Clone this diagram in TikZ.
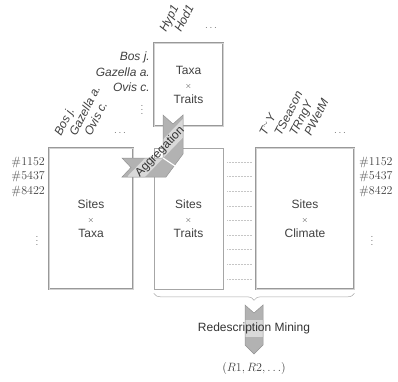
\documentclass[tikz,border=0pt]{standalone}
\usepackage{fontspec}
\setsansfont{Liberation Sans}
\usetikzlibrary{decorations.pathreplacing}
\tikzset{
  matbox/.style={draw=gray!80, line width=0.7pt, double=gray!35, double distance=0.7pt,
    align=center, font=\sffamily\fontsize{12}{14.5}\selectfont, text=black!75},
  thinbox/.style={draw=gray!70, line width=0.6pt,
    align=center, font=\sffamily\fontsize{12}{14.5}\selectfont, text=black!75},
  collabel/.style={font=\sffamily\itshape\fontsize{12}{14}\selectfont, text=black!75,
    rotate=63, anchor=base west, inner sep=0pt},
  taxlabel/.style={font=\sffamily\itshape\fontsize{12}{14}\selectfont, text=black!75,
    anchor=east, inner sep=0pt},
  rowlabel/.style={font=\fontsize{12}{14}\selectfont, text=black!75, inner sep=0pt},
  moredots/.style={text=black!60, inner sep=0pt},
  bigarrow/.style={fill=gray!60, draw=gray!85, line width=0.5pt},
  arrowtext/.style={font=\sffamily\fontsize{12}{14}\selectfont, text=black!80, inner sep=0pt},
}
\newcommand{\tms}{{\footnotesize$\times$}}
\begin{document}
\begin{tikzpicture}[x=1pt, y=-1pt]
  \useasboundingbox (0,0) rectangle (398,381);
  % the four matrices
  \node[matbox, minimum width=84pt, minimum height=141pt] (sitestaxa) at (91,218.5)
    {Sites\\\tms\\Taxa};
  \node[thinbox, minimum width=69pt, minimum height=141pt] (sitestraits) at (188.5,218.5)
    {Sites\\\tms\\Traits};
  \node[matbox, minimum width=98pt, minimum height=141pt] (sitesclim) at (305,218.5)
    {Sites\\\tms\\Climate};
  \node[matbox, minimum width=69pt, minimum height=83pt] (taxatraits) at (188.5,84.5)
    {Taxa\\\tms\\Traits};
  % column labels
  \foreach \x/\t in {61/Bos j., 76/Gazella a., 91/Ovis c.}
    \node[collabel] (st-\x) at (\x,137) {\t};
  \foreach \x/\t in {266/T\textsuperscript{$\sim$}Y, 281/TSeason, 296/TRngY, 311/PWetM}
    \node[collabel] (sc-\x) at (\x,137) {\t};
  \foreach \x/\t in {166/Hyp1, 181/Hod1}
    \node[collabel] (tt-\x) at (\x,33) {\t};
  \node[moredots] (st-dots) at (120,133) {$\dots$};
  \node[moredots] (sc-dots) at (340,133) {$\dots$};
  \node[moredots] (tt-dots) at (211,28) {$\dots$};
  % row labels
  \foreach \y/\t in {57/Bos j., 72/Gazella a., 87/Ovis c.}
    \node[taxlabel] (tr-\y) at (150,\y) {\t};
  \node[moredots] (tr-dots) at (142,107) {$\vdots$};
  \foreach \y/\t in {162/1152, 176.5/5437, 191/8422} {
    \node[rowlabel, anchor=east] (sl-\t) at (45,\y) {\#\t};
    \node[rowlabel, anchor=west] (sr-\t) at (359,\y) {\#\t};
  }
  \node[moredots] (sl-dots) at (37,238) {$\vdots$};
  \node[moredots] (sr-dots) at (372,238) {$\vdots$};
  % dotted rows between traits and climate
  \foreach \y in {162,176.6,...,280}
    \draw[gray!45, densely dotted, line width=0.5pt] (227,\y) -- (252,\y);
  % aggregation arrow
  \begin{scope}
    \clip (163,115) -- (173,124) -- (183,115) -- (183,154) -- (166,177)
      -- (122,177) -- (131,167.5) -- (122,158) -- (163,158) -- cycle;
    \fill[gray!60] (100,100) rectangle (200,200);
    \fill[gray!30, rotate around={46:(160,152)}] (120,145.5) rectangle (200,158.5);
  \end{scope}
  \draw[draw=gray!85, line width=0.5pt] (163,115) -- (173,124) -- (183,115) -- (183,154)
    -- (166,177) -- (122,177) -- (131,167.5) -- (122,158) -- (163,158) -- cycle;
  \draw[white, line width=1.2pt] (163,158) -- (175,166);
  \node[arrowtext, rotate=46] (aggr) at (160,152) {Aggregation};
  % brace and redescription arrow
  \draw[gray!70, line width=0.5pt, decorate, decoration={brace, mirror, amplitude=7pt}]
    ([yshift=-4pt]sitestraits.south west) -- ([yshift=-4pt]sitesclim.south east);
  \begin{scope}
    \clip (245,305) -- (254,313) -- (263,305) -- (263,345) -- (254,354) -- (245,345) -- cycle;
    \fill[gray!60] (240,300) rectangle (270,360);
    \fill[gray!30] (240,320) rectangle (270,337);
  \end{scope}
  \draw[draw=gray!85, line width=0.5pt] (245,305) -- (254,313) -- (263,305) -- (263,345)
    -- (254,354) -- (245,345) -- cycle;
  \node[arrowtext] (redesc) at (254,328) {Redescription Mining};
  \node[rowlabel] (result) at (254,368) {$(R1, R2, \dots)$};
\end{tikzpicture}
\end{document}
